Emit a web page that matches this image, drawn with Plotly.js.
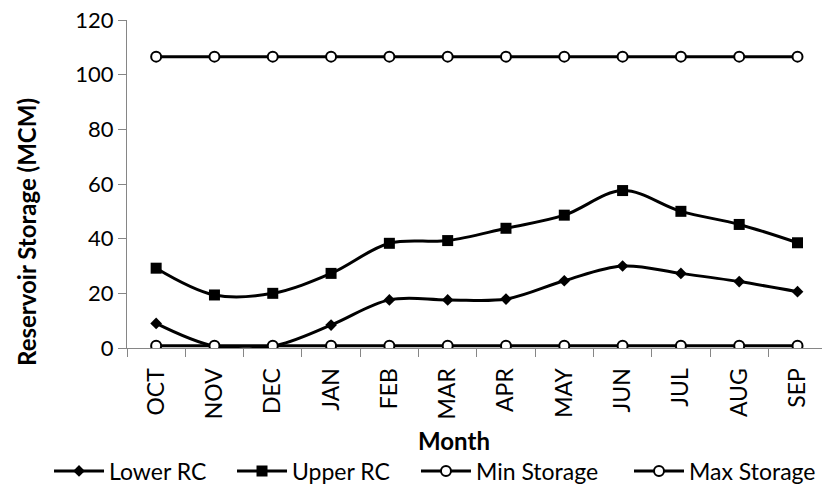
<!DOCTYPE html>
<html><head><meta charset="utf-8">
<script src="https://cdn.plot.ly/plotly-3.0.1.min.js"></script>
<style>html,body{margin:0;padding:0;background:#fff}#chart{width:822px;height:486px}</style>
</head><body><div id="chart"></div>
<script>
const months = ["OCT","NOV","DEC","JAN","FEB","MAR","APR","MAY","JUN","JUL","AUG","SEP"];
const lowerRC = [9.0, 0.7, 0.7, 8.4, 17.6, 17.6, 17.9, 24.6, 30.0, 27.3, 24.3, 20.6];
const upperRC = [29.2, 19.4, 20.0, 27.3, 38.3, 39.3, 43.8, 48.6, 57.6, 50.0, 45.2, 38.5];
const minStorage = [0.8, 0.8, 0.8, 0.8, 0.8, 0.8, 0.8, 0.8, 0.8, 0.8, 0.8, 0.8];
const maxStorage = [106.6, 106.6, 106.6, 106.6, 106.6, 106.6, 106.6, 106.6, 106.6, 106.6, 106.6, 106.6];
const yTicks = [0, 20, 40, 60, 80, 100, 120];

const font = "Lato, 'Open Sans', sans-serif";
const lineStyle = {color: "#000", width: 3, shape: "spline", smoothing: 1};
const traces = [
  {x: months, y: lowerRC, name: "Lower RC", mode: "lines+markers", line: lineStyle, legend: "legend",
   marker: {symbol: "diamond", size: 9, color: "#000"}},
  {x: months, y: upperRC, name: "Upper RC", mode: "lines+markers", line: lineStyle, legend: "legend2",
   marker: {symbol: "square", size: 11, color: "#000"}},
  {x: months, y: minStorage, name: "Min Storage", mode: "lines+markers", line: lineStyle, legend: "legend3",
   marker: {symbol: "circle", size: 10, color: "#fff", line: {color: "#000", width: 2}}},
  {x: months, y: maxStorage, name: "Max Storage", mode: "lines+markers", line: lineStyle, legend: "legend4",
   marker: {symbol: "circle", size: 10, color: "#fff", line: {color: "#000", width: 2}}}
];
function leg(x) {
  return {orientation: "h", x: x, xanchor: "left", y: -0.375, yanchor: "middle",
    font: {family: font, size: 23, color: "#000"}, itemwidth: 50,
    bgcolor: "rgba(0,0,0,0)", itemclick: false};
}
const layout = {
  width: 822, height: 486,
  margin: {l: 127, r: 0, t: 20, b: 138, autoexpand: false},
  paper_bgcolor: "#fff", plot_bgcolor: "#fff",
  font: {family: font, color: "#000"},
  showlegend: true,
  xaxis: {
    type: "category", range: [-0.5, 11.42], tickson: "boundaries",
    showline: true, linecolor: "#868686", linewidth: 1,
    ticks: "outside", ticklen: 8, tickcolor: "#868686", ticklabelstandoff: 10,
    showgrid: false, zeroline: false, tickangle: -90,
    tickfont: {family: font, size: 23, color: "#000"},
    automargin: false, fixedrange: true
  },
  yaxis: {
    range: [0, 120], tickvals: yTicks, ticktext: yTicks.map(String),
    showline: true, linecolor: "#868686", linewidth: 1,
    ticks: "outside", ticklen: 8, tickcolor: "#868686",
    showgrid: false, zeroline: false,
    tickfont: {family: font, size: 22, color: "#000"},
    automargin: false, fixedrange: true
  },
  annotations: [
    {text: "<b>Reservoir Storage (MCM)</b>", xref: "paper", yref: "paper", x: -0.1439, y: 0.3537,
     xanchor: "center", yanchor: "middle", textangle: -90, showarrow: false,
     font: {family: font, size: 24, color: "#000"}},
    {text: "<b>Month</b>", xref: "paper", yref: "paper", x: 0.4705, y: -0.2805,
     xanchor: "center", yanchor: "middle", showarrow: false,
     font: {family: font, size: 24, color: "#000"}}
  ],
  legend: leg(-0.1122),
  legend2: leg(0.1511),
  legend3: leg(0.4158),
  legend4: leg(0.7223)
};
Plotly.newPlot("chart", traces, layout, {displayModeBar: false, staticPlot: true});
</script></body></html>
